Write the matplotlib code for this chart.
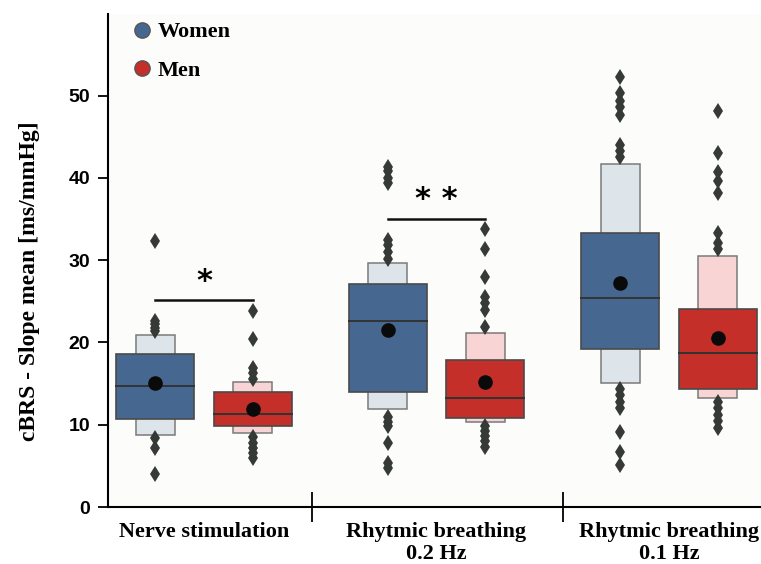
import matplotlib
matplotlib.use('Agg')
import matplotlib.pyplot as plt
from matplotlib.lines import Line2D
import numpy as np

# conditions on the x axis
groups = ['Nerve stimulation', 'Rhytmic breathing\n0.2 Hz', 'Rhytmic breathing\n0.1 Hz']

# letter-value boxes (outer box, inner box, median, mean)
women_outer_lo = [8.75, 11.9, 15.1]
women_outer_hi = [20.9, 29.6, 41.7]
women_q1 = [10.7, 14.0, 19.2]
women_q3 = [18.6, 27.1, 33.3]
women_median = [14.7, 22.6, 25.4]
women_mean = [15.1, 21.5, 27.2]
women_outliers = [
    [32.3, 22.6, 22.2, 21.8, 21.4, 8.4, 7.2, 4.0],
    [41.3, 40.8, 40.0, 39.4, 32.4, 31.8, 31.0, 30.2, 11.0, 10.3, 9.8, 7.8, 5.4, 4.7],
    [52.2, 50.3, 49.3, 48.6, 47.6, 44.0, 43.3, 42.5, 14.4, 13.6, 12.8, 12.0, 9.1, 6.7, 5.1],
]

men_outer_lo = [9.0, 10.3, 13.2]
men_outer_hi = [15.2, 21.2, 30.5]
men_q1 = [9.8, 10.8, 14.3]
men_q3 = [14.0, 17.9, 24.1]
men_median = [11.3, 13.3, 18.7]
men_mean = [11.9, 15.2, 20.6]
men_outliers = [
    [23.8, 20.4, 16.9, 16.3, 15.6, 8.5, 7.8, 7.2, 6.6, 5.9],
    [33.8, 31.4, 27.9, 25.5, 24.8, 24.0, 21.9, 9.8, 9.2, 8.6, 8.0, 7.3],
    [48.1, 43.0, 40.7, 39.6, 38.2, 33.3, 32.1, 31.3, 12.8, 12.0, 11.2, 10.5, 9.6],
]

# significance brackets: (group index, bar height, label)
sig_groups = [0, 1]
sig_heights = [25.1, 35.0]
sig_labels = ['*', '* *']

women_dark, women_light = '#466890', '#dde5ea'
men_dark, men_light = '#c42f2a', '#f9d4d5'

fig, ax = plt.subplots(figsize=(7.61, 5.64), dpi=100)
fig.subplots_adjust(left=0.142, right=1.0, bottom=0.101, top=0.975)
ax.set_facecolor('#fcfcfa')

x = np.arange(len(groups))
off = 0.21
w_main = 0.335
w_outer = 0.168


def draw_series(pos, lo, hi, q1, q3, med, mean, outl, dark, light):
    lo, hi, q1, q3 = map(np.array, (lo, hi, q1, q3))
    ax.bar(pos, hi - lo, bottom=lo, width=w_outer, color=light,
           edgecolor='#7a7a7a', linewidth=1.1, zorder=2)
    ax.bar(pos, q3 - q1, bottom=q1, width=w_main, color=dark,
           edgecolor='#4a4a4a', linewidth=1.2, zorder=3)
    for p, m in zip(pos, med):
        ax.plot([p - w_main / 2, p + w_main / 2], [m, m], color='#333333', lw=1.4, zorder=4)
    for p, o in zip(pos, outl):
        ax.plot([p] * len(o), o, 'd', color='#363a36', ms=8, mew=0, zorder=3)
    ax.plot(pos, mean, 'o', color='#0a0a0a', ms=9.5, zorder=5)


draw_series(x - off, women_outer_lo, women_outer_hi, women_q1, women_q3,
            women_median, women_mean, women_outliers, women_dark, women_light)
draw_series(x + off, men_outer_lo, men_outer_hi, men_q1, men_q3,
            men_median, men_mean, men_outliers, men_dark, men_light)

for g, h, lab in zip(sig_groups, sig_heights, sig_labels):
    ax.plot([g - off, g + off], [h, h], color='#111111', lw=1.8, zorder=4)
    ax.text(g, h + 0.6, lab, ha='center', va='bottom', fontsize=22,
            fontweight='bold', family='DejaVu Sans')

ax.set_xlim(-0.413, 2.396)
ax.set_ylim(0, 59.9)

ax.spines['top'].set_visible(False)
ax.spines['right'].set_visible(False)
ax.spines['left'].set_linewidth(1.5)
ax.spines['bottom'].set_linewidth(1.5)

ax.set_yticks([0, 10, 20, 30, 40, 50])
ax.tick_params(axis='y', length=7, width=1.3, pad=6, labelsize=14)
for t in ax.get_yticklabels():
    t.set_fontfamily('Liberation Sans')
    t.set_fontweight('bold')

# separators between conditions as major ticks, names as minor ticks
ax.set_xticks([0.465, 1.544])
ax.set_xticklabels([])
ax.tick_params(axis='x', which='major', direction='inout', length=22, width=1.3)
ax.set_xticks(x, minor=True)
ax.set_xticklabels(groups, minor=True, fontsize=16, fontweight='bold',
                   family='Liberation Serif', linespacing=1.1)
ax.tick_params(axis='x', which='minor', length=0, pad=11)

ax.set_ylabel('cBRS - Slope mean [ms/mmHg]', fontsize=17, fontweight='bold',
              family='Liberation Serif')
ax.yaxis.set_label_coords(-0.105, 0.458)

handles = [Line2D([], [], ls='', marker='o', ms=11, color=women_dark, mec='#555555'),
           Line2D([], [], ls='', marker='o', ms=11, color=men_dark, mec='#555555')]
ax.legend(handles, ['Women', 'Men'], loc='upper left', bbox_to_anchor=(-0.012, 1.025),
          frameon=False, handletextpad=-0.3, labelspacing=0.8,
          prop={'family': 'Liberation Serif', 'weight': 'bold', 'size': 16})

fig.savefig('out.png', dpi=100)
